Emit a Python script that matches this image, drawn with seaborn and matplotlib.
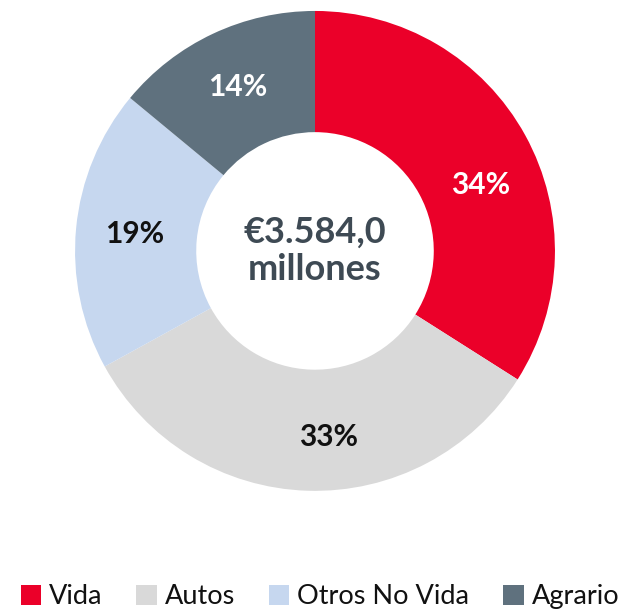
import matplotlib
matplotlib.use("Agg")
import matplotlib.pyplot as plt
import seaborn as sns
from matplotlib.patches import Patch

# data
categories = ["Vida", "Autos", "Otros No Vida", "Agrario"]
shares = [34, 33, 19, 14]
colors = ["#EB0029", "#D9D9D9", "#C6D7EF", "#5F717E"]
label_colors = ["white", "#111111", "#111111", "white"]
center_text = "€3.584,0\nmillones"

sns.set_theme(style="white")
plt.rcParams["font.family"] = ["Lato", "DejaVu Sans"]

fig = plt.figure(figsize=(6.3, 6.09), dpi=100)
ax = fig.add_axes([0.119, 0.194, 0.762, 0.788])

wedges, texts, autotexts = ax.pie(
    shares,
    colors=colors,
    startangle=90,
    counterclock=False,
    radius=1.0,
    autopct=lambda p: f"{p:.0f}%",
    pctdistance=0.755,
    wedgeprops=dict(width=0.505, edgecolor="none"),
)
for t, c in zip(autotexts, label_colors):
    t.set_color(c)
    t.set_fontsize(21.5)
    t.set_fontweight("bold")

# Excel nudged the two big labels a little
x, y = autotexts[0].get_position()
autotexts[0].set_position((x + 0.03, y - 0.09))
x, y = autotexts[1].get_position()
autotexts[1].set_position((x + 0.08, y - 0.02))

ax.text(0, 0.0, center_text, ha="center", va="center", fontsize=26,
        fontweight="bold", color="#3E4A54", linespacing=1.15)
ax.set_xlim(-1, 1)
ax.set_ylim(-1, 1)
ax.set_aspect("equal")
ax.axis("off")

handles = [Patch(facecolor=c, edgecolor="none") for c in colors]
fig.legend(handles, categories, loc="center", bbox_to_anchor=(0.508, 0.02),
           ncol=4, frameon=False, fontsize=19.5, handlelength=0.75,
           handleheight=0.75, handletextpad=0.3, columnspacing=1.25,
           labelcolor="#111111")

fig.savefig("out.png", dpi=100)
